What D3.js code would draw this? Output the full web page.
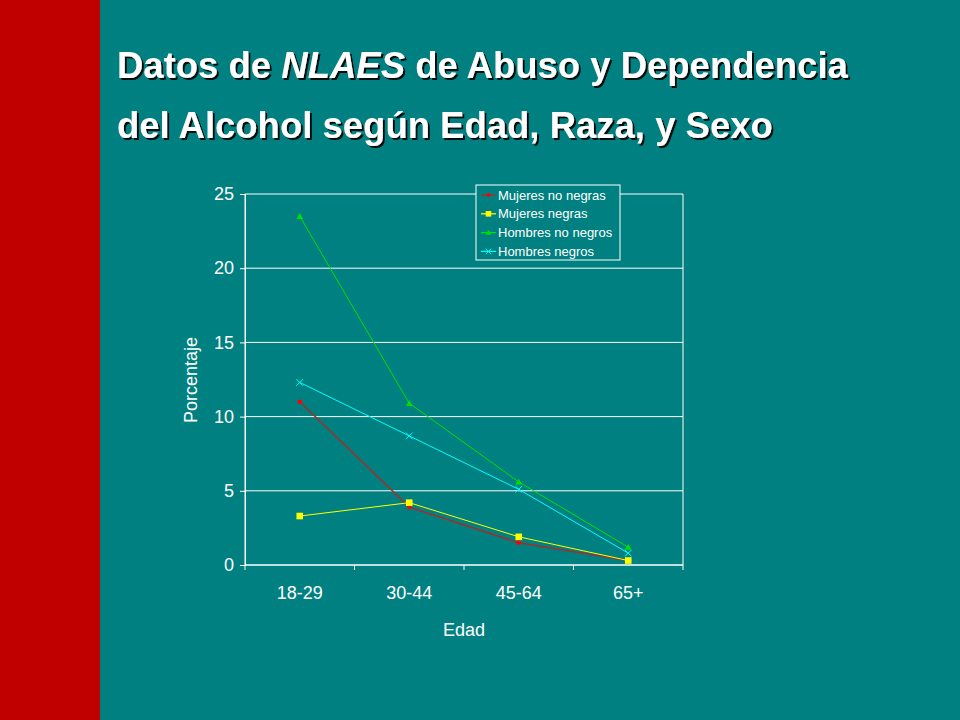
<!DOCTYPE html>
<html><head><meta charset="utf-8">
<script src="https://cdn.jsdelivr.net/npm/d3@7"></script>
<style>body{margin:0;background:#008080}</style></head>
<body><svg id="c" width="960" height="720"></svg>
<script>
const categories = ["18-29","30-44","45-64","65+"];
const seriesNames = ["Mujeres no negras","Mujeres negras","Hombres no negros","Hombres negros"];
const mujeresNoNegras = [11.0, 3.9, 1.5, 0.3];
const mujeresNegras = [3.3, 4.2, 1.9, 0.3];
const hombresNoNegros = [23.5, 10.9, 5.6, 1.2];
const hombresNegros = [12.3, 8.7, 5.1, 0.8];
const yTicks = [0,5,10,15,20,25];
const seriesValues = [mujeresNoNegras, mujeresNegras, hombresNoNegros, hombresNegros];
const colors = ["#a0302a","#ffff00","#00e000","#00ffff"];
const shapes = ["circle","square","triangle","x"];

const svg = d3.select("#c");
svg.append("rect").attr("width",960).attr("height",720).attr("fill","#008080");
svg.append("rect").attr("width",100).attr("height",720).attr("fill","#c00000");
const defs = svg.append("defs");
const f = defs.append("filter").attr("id","sh");
f.append("feDropShadow").attr("dx",2).attr("dy",2).attr("stdDeviation",0.3).attr("flood-color","#000").attr("flood-opacity",0.9);
const t = svg.append("text").attr("x",117).attr("y",78).attr("fill","#fff").attr("font-family","Liberation Sans, Arial").attr("font-weight","bold").attr("font-size",36.5).attr("filter","url(#sh)");
t.append("tspan").text("Datos de ");
t.append("tspan").attr("font-style","italic").text("NLAES");
t.append("tspan").text(" de Abuso y Dependencia");
svg.append("text").attr("x",117).attr("y",138).attr("fill","#fff").attr("font-family","Liberation Sans, Arial").attr("font-weight","bold").attr("font-size",36.5).attr("filter","url(#sh)").text("del Alcohol según Edad, Raza, y Sexo");

const L=245,R=683,T=194,B=565;
const x = d3.scaleBand().domain(categories).range([L,R]);
const y = d3.scaleLinear().domain([0,25]).range([B,T]);
const g = svg.append("g").attr("font-family","Liberation Sans, Arial");
g.selectAll(".gl").data(yTicks).join("line").attr("x1",L).attr("x2",R).attr("y1",d=>y(d)).attr("y2",d=>y(d)).attr("stroke","#fff").attr("stroke-width",1);
g.append("line").attr("x1",L).attr("x2",L).attr("y1",T).attr("y2",B).attr("stroke","#fff");
g.append("line").attr("x1",R).attr("x2",R).attr("y1",T).attr("y2",B).attr("stroke","#fff");
const ya = g.append("g").attr("transform",`translate(${L},0)`).call(d3.axisLeft(y).tickValues(yTicks).tickSize(5).tickPadding(6));
const xa = g.append("g").attr("transform",`translate(0,${B})`).call(d3.axisBottom(x).tickSize(0).tickPadding(21));
xa.selectAll(".tick line").remove();
g.selectAll(".xt").data(d3.range(categories.length+1)).join("line").attr("x1",i=>L+i*x.step()).attr("x2",i=>L+i*x.step()).attr("y1",B).attr("y2",B+5).attr("stroke","#fff");
[ya,xa].forEach(a=>{a.selectAll("path,line").attr("stroke","#fff");a.selectAll("text").attr("fill","#fff").attr("font-size",18).attr("font-family","Liberation Sans, Arial");});
xa.select(".domain").attr("d",`M${L},0H${R}`);
g.append("text").attr("x",464).attr("y",636).attr("text-anchor","middle").attr("fill","#fff").attr("font-size",18).text("Edad");
g.append("text").attr("transform","translate(197,380) rotate(-90)").attr("text-anchor","middle").attr("fill","#fff").attr("font-size",18).text("Porcentaje");

function marker(sel,shape,color,cx,cy,s){
  if(shape==="circle") sel.append("circle").attr("cx",cx).attr("cy",cy).attr("r",s*0.7).attr("fill","#ff0000");
  else if(shape==="square") sel.append("rect").attr("x",cx-s).attr("y",cy-s).attr("width",2*s).attr("height",2*s).attr("fill",color);
  else if(shape==="triangle") sel.append("path").attr("d",`M${cx},${cy-s}L${cx+s},${cy+s*0.8}L${cx-s},${cy+s*0.8}Z`).attr("fill",color);
  else sel.append("path").attr("d",`M${cx-s},${cy-s}L${cx+s},${cy+s}M${cx+s},${cy-s}L${cx-s},${cy+s}`).attr("stroke",color).attr("stroke-width",1);
}
const line = d3.line().x((d,i)=>x(categories[i])+x.bandwidth()/2).y(d=>y(d));
seriesValues.forEach((vals,k)=>{
  const sg = g.append("g");
  sg.append("path").attr("d",line(vals)).attr("fill","none").attr("stroke",colors[k]).attr("stroke-width",k===0?1.5:1);
  vals.forEach((v,i)=>marker(sg,shapes[k],colors[k],x(categories[i])+x.bandwidth()/2,y(v),3.3));
});
const lg = g.append("g");
lg.append("rect").attr("x",476).attr("y",185).attr("width",144).attr("height",75).attr("fill","#008080").attr("stroke","#fff");
seriesNames.forEach((n,k)=>{
  const yy = 195+k*18.8;
  lg.append("line").attr("x1",481).attr("x2",496).attr("y1",yy).attr("y2",yy).attr("stroke",colors[k]).attr("stroke-width",1.2);
  marker(lg,shapes[k],colors[k],488.5,yy,2.8);
  lg.append("text").attr("x",498).attr("y",yy+4.5).attr("fill","#fff").attr("font-size",13).text(n);
});
</script></body></html>
